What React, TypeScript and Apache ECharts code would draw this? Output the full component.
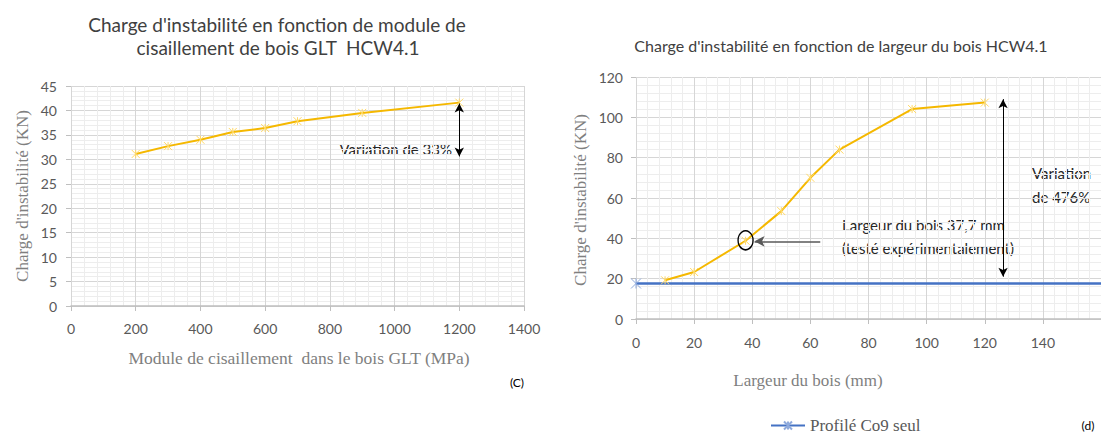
import React, { useEffect, useRef } from 'react';
import * as echarts from 'echarts';

// (C) Module de cisaillement (MPa) vs Charge d'instabilité (KN)
const moduleX = [200, 300, 400, 500, 600, 700, 900, 1200];
const moduleLoad = [31.1, 32.7, 34.0, 35.6, 36.4, 37.8, 39.5, 41.6];

// (d) Largeur du bois (mm) vs Charge d'instabilité (KN)
const widthX = [10, 20, 37.7, 50, 60, 70, 95, 120];
const widthLoad = [19.2, 23.3, 38.8, 53.5, 70, 84, 104.1, 107.3];

// Profilé Co9 seul (constant)
const profileX = [0, 160];
const profileLoad = [17.6, 17.6];

const LEGEND_NAME = 'Profilé Co9 seul';

export default function App() {
  const ref = useRef<HTMLDivElement>(null);

  useEffect(() => {
    const chart = echarts.init(ref.current as HTMLDivElement, null, { renderer: 'svg' });
    const star = 'path://M0,0L10,10M10,0L0,10M5,0L5,10';
    const tickLabel = {
      color: '#595959',
      fontFamily: 'Lato',
      fontSize: 14,
      formatter: (v: number) => String(v),
    };
    const splitLine = { show: true, lineStyle: { color: '#d6d6d6', width: 1 } };
    const minorSplitLine = { show: true, lineStyle: { color: '#ededed', width: 1 } };
    const minorTick = { show: false, splitNumber: 5 };
    const axisTick = { show: true, length: 5, lineStyle: { color: '#bfbfbf' } };
    const sans = 'Lato';
    const serif = '"Liberation Serif", "DejaVu Serif", serif';
    const txt = (text: string, x: number, y: number, size: number, align: string, extra: any = {}) => ({
      type: 'text',
      x,
      y,
      silent: true,
      style: {
        text,
        fontFamily: sans,
        fontSize: size,
        fill: '#262626',
        align,
        verticalAlign: 'middle',
        ...extra,
      },
    });

    chart.setOption({
      animation: false,
      backgroundColor: '#ffffff',
      grid: [
        { left: 71, top: 86, width: 453, height: 220 },
        { left: 636, top: 77, width: 493.6, height: 242 },
      ],
      xAxis: [
        {
          gridIndex: 0, type: 'value', min: 0, max: 1400, interval: 200,
          axisLine: { show: true, lineStyle: { color: '#bfbfbf', width: 1.5 } },
          axisTick, axisLabel: { ...tickLabel, margin: 15 },
          splitLine, minorTick, minorSplitLine,
        },
        {
          gridIndex: 1, type: 'value', min: 0, max: 160, interval: 20,
          axisLine: { show: true, lineStyle: { color: '#bfbfbf', width: 1.5 } },
          axisTick, axisLabel: { ...tickLabel, margin: 16, showMaxLabel: false },
          splitLine, minorTick, minorSplitLine,
        },
      ],
      yAxis: [
        {
          gridIndex: 0, type: 'value', min: 0, max: 45, interval: 5,
          axisLine: { show: false }, axisTick,
          axisLabel: { ...tickLabel, margin: 14 },
          splitLine, minorTick, minorSplitLine,
        },
        {
          gridIndex: 1, type: 'value', min: 0, max: 120, interval: 20,
          axisLine: { show: false }, axisTick,
          axisLabel: { ...tickLabel, margin: 13 },
          splitLine, minorTick, minorSplitLine,
        },
      ],
      legend: {
        data: [LEGEND_NAME],
        left: 765,
        top: 412,
        itemWidth: 34,
        itemHeight: 10,
        textStyle: { fontFamily: serif, fontSize: 17, color: '#595959' },
      },
      series: [
        {
          name: 'Module',
          type: 'line',
          xAxisIndex: 0,
          yAxisIndex: 0,
          data: moduleX.map((x, i) => [x, moduleLoad[i]]),
          lineStyle: { color: '#F5B800', width: 2 },
          symbol: star,
          symbolSize: 8,
          itemStyle: { color: '#FFD966', borderColor: '#FFD966', borderWidth: 1 },
          markLine: {
            silent: true,
            symbol: ['arrow', 'arrow'],
            symbolSize: [7, 9],
            lineStyle: { color: '#000000', width: 1, type: 'solid' },
            label: { show: false },
            data: [[{ coord: [1200, 41.4] }, { coord: [1200, 30.6] }]],
          },
        },
        {
          name: 'Largeur',
          type: 'line',
          xAxisIndex: 1,
          yAxisIndex: 1,
          data: widthX.map((x, i) => [x, widthLoad[i]]),
          lineStyle: { color: '#F5B800', width: 2 },
          symbol: star,
          symbolSize: 8,
          itemStyle: { color: '#FFD966', borderColor: '#FFD966', borderWidth: 1 },
          markLine: {
            silent: true,
            symbol: ['arrow', 'arrow'],
            symbolSize: [7, 9],
            lineStyle: { color: '#000000', width: 1, type: 'solid' },
            label: { show: false },
            data: [[{ coord: [126.3, 109] }, { coord: [126.3, 21] }]],
          },
          markPoint: {
            silent: true,
            data: [
              {
                coord: [37.7, 39],
                symbol: 'circle',
                symbolSize: [15, 19],
                itemStyle: { color: 'rgba(0,0,0,0)', borderColor: '#000000', borderWidth: 1.5 },
                label: { show: false },
              },
            ],
          },
        },
        {
          name: LEGEND_NAME,
          type: 'line',
          xAxisIndex: 1,
          yAxisIndex: 1,
          data: [
            { value: [profileX[0], profileLoad[0]] },
            { value: [profileX[1], profileLoad[1]], symbol: 'none' },
          ],
          lineStyle: { color: '#4472C4', width: 2.5 },
          symbol: star,
          symbolSize: 10,
          itemStyle: { color: '#8FAADC', borderColor: '#8FAADC', borderWidth: 1 },
          markLine: {
            silent: true,
            symbol: ['none', 'arrow'],
            symbolSize: [8, 10],
            lineStyle: { color: '#595959', width: 1.5, type: 'solid' },
            label: { show: false },
            data: [[{ coord: [63.4, 38.5] }, { coord: [40.8, 38.5] }]],
          },
        },
      ],
      graphic: [
        txt("Charge d'instabilité en fonction de module de", 277, 24, 19, 'center', { fill: '#404040' }),
        txt('cisaillement de bois GLT  HCW4.1', 278, 47, 19, 'center', { fill: '#404040' }),
        txt("Charge d'instabilité en fonction de largeur du bois HCW4.1", 841, 45, 16, 'center', { fill: '#404040' }),
        txt('Variation de 33%', 452, 149, 15, 'right'),
        txt('Variation', 1032, 173, 15, 'left'),
        txt('de 476%', 1032, 197, 15, 'left'),
        txt('Largeur du bois 37,7 mm', 842, 225, 15, 'left'),
        txt('(testé expérimentalement)', 842, 248, 15, 'left'),
        txt('(C)', 517, 382, 12, 'center', { fill: '#000000' }),
        txt('(d)', 1088, 425, 12, 'center', { fill: '#000000' }),
        txt('Module de cisaillement  dans le bois GLT (MPa)', 299, 358, 17.5, 'center', { fontFamily: serif, fill: '#7f7f7f' }),
        txt('Largeur du bois (mm)', 808, 380, 17, 'center', { fontFamily: serif, fill: '#7f7f7f' }),
        {
          type: 'text', x: 22, y: 196, rotation: Math.PI / 2, silent: true,
          style: { text: "Charge d'instabilité (KN)", fontFamily: serif, fontSize: 17, fill: '#7f7f7f', align: 'center', verticalAlign: 'middle' },
        },
        {
          type: 'text', x: 580, y: 200, rotation: Math.PI / 2, silent: true,
          style: { text: "Charge d'instabilité (KN)", fontFamily: serif, fontSize: 17, fill: '#7f7f7f', align: 'center', verticalAlign: 'middle' },
        },
      ],
    });

    return () => chart.dispose();
  }, []);

  return (
    <div
      ref={ref}
      style={{ position: 'fixed', left: 0, top: 0, width: 1101, height: 437, background: '#ffffff' }}
    />
  );
}
